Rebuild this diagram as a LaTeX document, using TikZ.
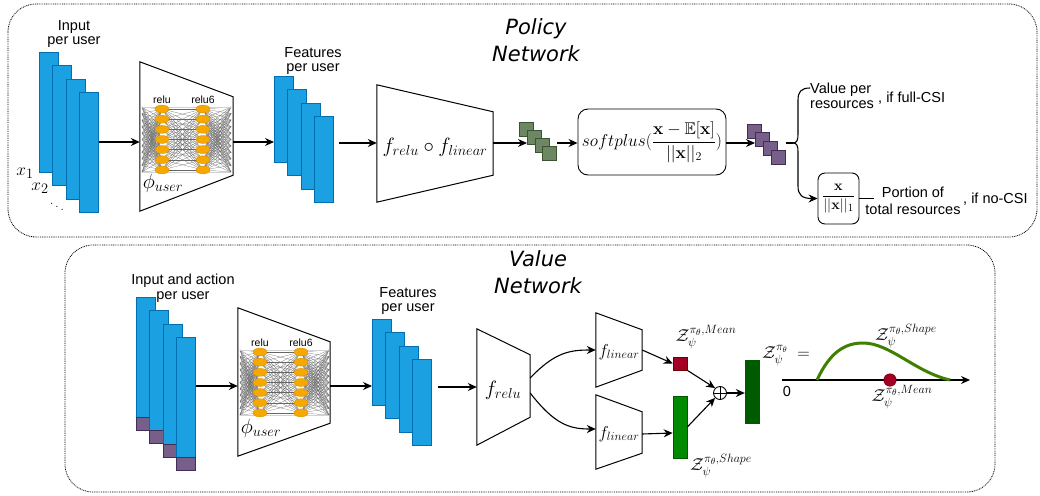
\documentclass[tikz,border=0pt]{standalone}
\usepackage[no-math]{fontspec}
\usepackage{amsmath,amssymb}
\usetikzlibrary{arrows.meta,calc}
\newfontfamily\hel{Liberation Sans}
\newfontfamily\ttlfont{DejaVu Sans}
\definecolor{bluef}{HTML}{1BA1E2}
\definecolor{blued}{HTML}{006EAF}
\definecolor{purf}{HTML}{76608A}
\definecolor{purd}{HTML}{432D57}
\definecolor{gref}{HTML}{6D8764}
\definecolor{gred}{HTML}{3A5431}
\definecolor{redf}{HTML}{A20025}
\definecolor{redd}{HTML}{6F0000}
\definecolor{grnf}{HTML}{008A00}
\definecolor{grnd}{HTML}{005700}
\definecolor{dgrn}{HTML}{005A00}
\definecolor{curvec}{HTML}{3F8000}
\definecolor{neurf}{HTML}{F5A800}
\definecolor{neurd}{HTML}{D98C00}
\newcommand{\trapz}[3]{\draw[trapline] (#1.north west) -- ($(#1.north east)+(0,#2)$) -- ($(#1.south east)+(0,-#3)$) -- (#1.south west) -- cycle;}
\newcommand{\mynet}[2]{%
\begin{scope}[shift={(#1,#2)}]
 \foreach \a in {0,...,10} \foreach \b in {0,...,6} {\draw[netline] (142,107+6.5*\a) -- (162,109+10.15*\b);}
 \foreach \a in {0,...,6} \foreach \b in {0,...,6} {\draw[netline] (162,109+10.15*\a) -- (203,109+10.15*\b);}
 \foreach \a in {0,...,6} \foreach \b in {0,...,10} {\draw[netline] (203,109+10.15*\a) -- (231,107+6.5*\b);}
 \draw[gray!35, line width=0.6pt] (142,107) -- (231,107);
 \draw[gray!35, line width=0.6pt] (142,172) -- (231,172);
 \foreach \a in {0,...,6} {\draw[neuron] (162,109+10.15*\a) ellipse (7 and 4);}
 \foreach \a in {0,...,6} {\draw[neuron] (203,109+10.15*\a) ellipse (7 and 4);}
 \node[tinylbl] at (162,100) {relu};
 \node[tinylbl] at (203,100) {relu6};
\end{scope}}
\begin{document}
\begin{tikzpicture}[x=1pt,y=-1pt,
  lbl/.style={font=\hel\fontsize{14.5}{14.5}\selectfont, align=center, inner sep=0pt},
  tinylbl/.style={font=\hel\fontsize{10.5}{11}\selectfont, inner sep=0pt},
  ttl/.style={font=\ttlfont\itshape\fontsize{21}{27}\selectfont, align=center, inner sep=0pt},
  mth/.style={font=\fontsize{19}{22}\selectfont, inner sep=0pt},
  zl/.style={font=\fontsize{18}{20}\selectfont, inner sep=0pt},
  bar/.style={draw=blued, fill=bluef, line width=0.8pt, minimum width=19pt, minimum height=120pt, inner sep=0pt, anchor=north west},
  fbar/.style={bar, minimum height=86pt},
  pbot/.style={draw=purd, fill=purf, line width=0.8pt, minimum width=19pt, minimum height=13pt, inner sep=0pt, anchor=north west},
  gsq/.style={draw=gred, fill=gref, line width=0.6pt, minimum size=13.5pt, inner sep=0pt, anchor=north west},
  psq/.style={draw=purd, fill=purf, line width=0.6pt, minimum size=14pt, inner sep=0pt, anchor=north west},
  tbox/.style={inner sep=0pt, draw=none},
  trapline/.style={line width=1pt},
  netline/.style={black!60, line width=0.22pt},
  neuron/.style={fill=neurf, draw=neurd, line width=0.3pt},
  mbox/.style={draw, rounded corners=10pt, line width=0.9pt, inner sep=0pt},
  arr/.style={-{Stealth[length=9pt,width=8pt]}, line width=1.1pt},
  frame/.style={dash pattern=on 0.9pt off 0.9pt, line width=0.8pt, rounded corners=28pt}
]
\useasboundingbox (0,0) rectangle (1040,495);
% frames
\draw[frame] (8,4) rectangle (1037,237);
\draw[frame] (65,245) rectangle (995,492);
% titles
\node[ttl] (tpol) at (536,40) {Policy\\Network};
\node[ttl] (tval) at (538,272) {Value\\Network};

% ================= POLICY =================
\coordinate (rowA) at (0,142);
\node[lbl] (tin) at (74,34) {Input\\per user};
\foreach \i in {0,...,3} {\node[bar] (i\i) at (39+13.33*\i,52+13.33*\i) {};}
\node[mth] (x1) at (25,173) {$x_1$};
\node[mth] (x2) at (40,188) {$x_2$};
\node[font=\fontsize{15}{15}\selectfont, inner sep=0pt] (xd) at (57,204) {$\ddots$};
% phi trapezoid
\node[tbox, minimum width=93pt, minimum height=149pt] (P1) at (186.5,136.5) {};
\mynet{0}{0}
\trapz{P1}{35}{36}
\node[mth, font=\fontsize{20}{22}\selectfont] (phi1) at (163,183) {$\phi_{user}$};
\draw[arr] (i3.east |- rowA) -- (P1.west |- rowA);
% features
\node[lbl] (tfe) at (313,61) {Features\\per user};
\foreach \i in {0,...,3} {\node[fbar] (f\i) at (274+13.33*\i,76+13.33*\i) {};}
\draw[arr] ($(P1.east |- rowA)$) -- (f0.west |- rowA);
% f relu o f linear
\coordinate (rowB) at (0,143);
\node[tbox, minimum width=116pt, minimum height=117pt] (P2) at (435,143.5) {};
\trapz{P2}{27}{27}
\node[mth, font=\fontsize{20}{22}\selectfont] (p2l) at (435,147) {$f_{relu}\circ f_{linear}$};
\draw[arr] ($(f3.east |- rowB)+(5,0)$) -- (P2.west |- rowB);
% green squares
\node[gsq] (g0) at (519,122) {};
\node[gsq] (g1) at (527,130) {};
\node[gsq] (g2) at (535,138) {};
\node[gsq] (g3) at (542,146) {};
\draw[arr] (P2.east |- rowB) -- (g1.west |- rowB);
% softplus
\node[mbox, minimum width=148pt, minimum height=66pt, font=\fontsize{17}{20}\selectfont] (SP) at (652,142) {$softplus(\dfrac{\mathbf{x}-\mathbb{E}[\mathbf{x}]}{||\mathbf{x}||_2})$};
\draw[arr] ($(g3.east |- rowB)+(1,0)$) -- (SP.west |- rowB);
% purple squares
\node[psq] (q0) at (747,124) {};
\node[psq] (q1) at (755,132) {};
\node[psq] (q2) at (763,141) {};
\node[psq] (q3) at (771,150) {};
\draw[arr] (SP.east |- rowB) -- (q1.west |- rowB);
% brace
\node[mbox, rounded corners=7pt, minimum width=41pt, minimum height=51pt, font=\fontsize{15}{17}\selectfont] (FB) at (838.5,198.5) {$\dfrac{\mathbf{x}}{||\mathbf{x}||_1}$};
\coordinate (bs) at (q3.east |- rowB);
\coordinate (bc) at (793,143);
\coordinate (btop) at (810,88);
\draw[line width=1.1pt] (bs) -- (bc);
\draw[line width=1.1pt] (bc) .. controls (797,143) and (798,140) .. (798,134) -- (798,100) .. controls (798,92) and (801,88) .. (btop);
\draw[arr] (bc) .. controls (797,143) and (798,146) .. (798,152) -- (798,186) .. controls (798,195) and (802,198.5) .. (FB.west);
\node[lbl, align=left, anchor=west] (vpr) at (810,96) {Value per\\resources};
\node[lbl, anchor=base west] (ffc) at (878,102) {, if full-CSI};
\draw[line width=1pt] (FB.east) -- ++(15,0) coordinate (stubend);
\node[lbl, font=\hel\fontsize{14.5}{17}\selectfont] (por) at (913,201) {Portion of\\total resources};
\node[lbl, anchor=base west] (fnc) at (963,203) {, if no-CSI};

% ================= VALUE =================
\coordinate (rowC) at (0,386);
\node[lbl] (tvin) at (183,288) {Input and action\\per user};
\foreach \i in {0,...,3} {
  \node[bar] (vi\i) at (136+13.33*\i,297+13.33*\i) {};
  \node[pbot] (vp\i) at (136+13.33*\i,417+13.33*\i) {};
}
\node[tbox, minimum width=92pt, minimum height=148pt] (V1) at (284,382) {};
\mynet{98}{243}
\trapz{V1}{34}{33}
\node[mth, font=\fontsize{20}{22}\selectfont] (phi2) at (261,428) {$\phi_{user}$};
\draw[arr] (vi3.east |- rowC) -- (V1.west |- rowC);
\node[lbl] (tvfe) at (408,301) {Features\\per user};
\foreach \i in {0,...,3} {\node[fbar] (vf\i) at (372+13.33*\i,319+13.33*\i) {};}
\draw[arr] (V1.east |- rowC) -- (vf0.west |- rowC);
% f relu
\coordinate (rowD) at (0,387);
\node[tbox, minimum width=53pt, minimum height=116pt] (FR) at (503.5,387) {};
\trapz{FR}{26}{28}
\node[mth, font=\fontsize{20}{22}\selectfont] (frl) at (503,390) {$f_{relu}$};
\draw[arr] ($(vf3.east |- rowD)+(6,0)$) -- (FR.west |- rowD);
% f linear boxes
\node[tbox, minimum width=46pt, minimum height=74pt] (FL1) at (619,350) {};
\trapz{FL1}{17}{17}
\node[mth, font=\fontsize{17}{18}\selectfont] (fl1) at (619,352) {$f_{linear}$};
\node[tbox, minimum width=46pt, minimum height=74pt] (FL2) at (619,432) {};
\trapz{FL2}{17}{16}
\node[mth, font=\fontsize{17}{18}\selectfont] (fl2) at (619,434) {$f_{linear}$};
\draw[arr] ($(FR.east)+(0,-9)$) .. controls (555,352) and (570,350) .. (FL1.west);
\draw[arr] ($(FR.east)+(0,6)$) .. controls (555,425) and (570,429) .. ($(FL2.west)+(0,-3)$);
% outputs
\node[draw=redd, fill=redf, line width=0.6pt, minimum width=14pt, minimum height=13pt, inner sep=0pt] (rs) at (680,363.5) {};
\node[draw=grnd, fill=grnf, line width=0.6pt, minimum width=14pt, minimum height=62pt, inner sep=0pt] (gs) at (680,427) {};
\node[circle, draw, line width=0.9pt, minimum size=13pt, inner sep=0pt] (plus) at (720,393) {};
\draw[line width=0.9pt] (plus.north) -- (plus.south);
\draw[line width=0.9pt] (plus.west) -- (plus.east);
\node[draw=dgrn, fill=dgrn, minimum width=14pt, minimum height=63pt, inner sep=0pt] (dg) at (752,391.5) {};
\draw[arr] (FL1.east) -- (rs.west);
\draw[arr] ($(FL2.east)+(0,2)$) -- ($(gs.west)+(0,6)$);
\draw[arr] (rs.south east) -- (plus.north west);
\draw[arr] (gs.east) -- (plus.south west);
\draw[arr] (plus.east) -- (dg.west |- plus);
\node[zl] (zmean) at (706,337) {$\mathcal{Z}_\psi^{\pi_\theta,Mean}$};
\node[zl] (zshape) at (721,466) {$\mathcal{Z}_\psi^{\pi_\theta,Shape}$};
\node[zl, font=\fontsize{17}{19}\selectfont] (zeq) at (786,356) {$\mathcal{Z}_\psi^{\pi_\theta}\;=$};
% distribution plot
\coordinate (ax0) at (782,380);
\coordinate (ax1) at (970,380);
\draw[arr] (ax0) -- (ax1);
\node[lbl] (zero) at (787,392) {0};
\draw[curvec, line width=3pt] (817,380) .. controls (830,352) and (845,343) .. (863,343) .. controls (890,343) and (915,372) .. (950,380);
\node[circle, fill=redf, draw=redd, line width=0.5pt, minimum size=12.5pt, inner sep=0pt] (rd) at (890,380) {};
\node[zl] (zs2) at (906,336) {$\mathcal{Z}_\psi^{\pi_\theta,Shape}$};
\node[zl] (zm2) at (902,397) {$\mathcal{Z}_\psi^{\pi_\theta,Mean}$};
\end{tikzpicture}
\end{document}
